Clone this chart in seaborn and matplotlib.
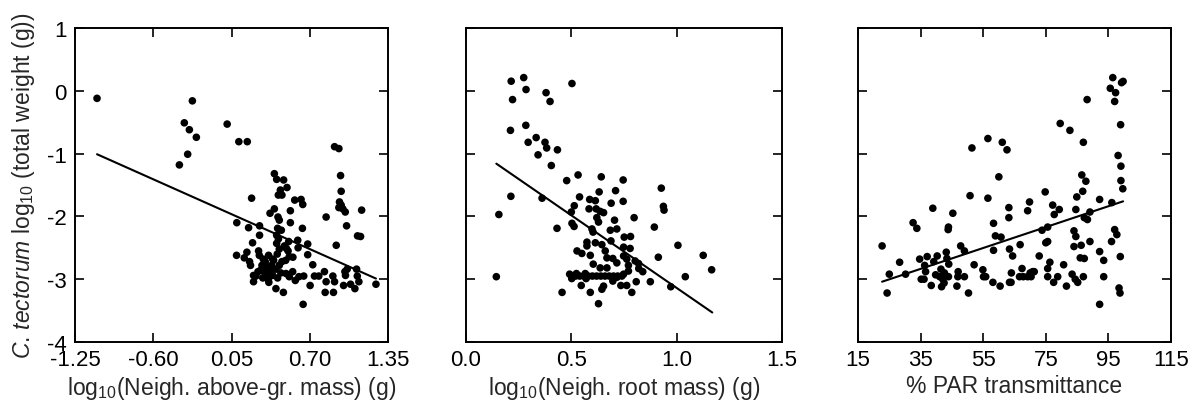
import numpy as np
import pandas as pd
import matplotlib
matplotlib.use("Agg")
import matplotlib.pyplot as plt
import seaborn as sns

# panel 1: log10 neighbour above-ground mass vs log10 total weight
shoot_x = [-1.067, -0.275, -0.342, -0.30, -0.242, -0.314, -0.383, 0.014, 0.111, 0.181,
           0.906, 0.942, 0.956, 0.961, 0.947, 0.961, 0.942, 0.975, 0.995, 0.836,
           1.006, 1.131, 1.097, 1.122, 0.92, 0.406, 0.425, 0.483, 0.511, 0.456,
           0.439, 0.469, 0.217, 0.575, 0.628, 0.642, 0.539, 0.406, 0.37, 0.436,
           0.447, 0.539, 0.094, 0.192, 0.283, 0.433, 0.464, 0.639, 0.283, 0.225,
           0.425, 0.425, 0.525, 0.60, 0.683, 0.603, 0.506, 0.447, 0.275, 0.178,
           0.092, 0.156, 0.20, 0.208, 0.281, 0.358, 0.392, 0.314, 0.336, 0.303,
           0.383, 0.469, 0.53, 0.683, 0.725, 0.233, 0.253, 0.233, 0.342, 0.356,
           0.392, 0.433, 0.419, 0.481, 0.53, 0.503, 0.558, 0.65, 0.645, 0.703,
           0.739, 0.775, 0.822, 0.836, 0.828, 0.892, 0.906, 0.897, 0.981, 0.992,
           0.997, 1.011, 1.039, 1.075, 1.089, 1.095, 1.108, 1.25, 0.35, 0.419,
           0.447, 0.32, 0.37, 0.29, 0.40, 0.46, 0.52, 0.56, 0.61, 0.33,
           0.38, 0.44, 0.50, 0.58, 0.27, 0.31, 0.36, 0.43, 0.49]
shoot_y = [-0.12, -0.16, -0.51, -0.62, -0.74, -1.01, -1.18, -0.53, -0.81, -0.81,
           -0.89, -0.92, -1.35, -1.60, -1.77, -1.82, -1.86, -1.88, -1.93, -2.01,
           -2.15, -1.90, -2.31, -2.32, -2.46, -1.32, -1.41, -1.42, -1.54, -1.58,
           -1.66, -1.66, -1.71, -1.74, -1.73, -1.81, -1.91, -1.88, -1.95, -2.01,
           -2.06, -2.10, -2.10, -2.18, -2.15, -2.19, -2.22, -2.19, -2.30, -2.42,
           -2.30, -2.43, -2.40, -2.38, -2.44, -2.50, -2.51, -2.52, -2.55, -2.57,
           -2.62, -2.66, -2.72, -2.78, -2.62, -2.62, -2.68, -2.68, -2.78, -2.78,
           -2.78, -2.72, -2.64, -2.61, -2.77, -2.94, -2.95, -3.04, -2.94, -3.01,
           -2.94, -2.98, -3.15, -3.21, -2.96, -2.91, -2.88, -2.95, -3.40, -3.10,
           -2.95, -2.95, -2.88, -3.04, -3.21, -2.95, -3.04, -3.21, -3.10, -2.88,
           -2.94, -2.84, -3.08, -3.15, -2.84, -2.95, -3.04, -3.08, -2.85, -2.84,
           -2.78, -2.88, -2.85, -2.86, -2.70, -2.90, -2.55, -2.65, -2.96, -2.72,
           -2.92, -2.36, -2.70, -3.02, -2.88, -2.98, -3.05, -2.60, -2.47]

# panel 2: log10 neighbour root mass
root_x = [0.2145, 0.274, 0.285, 0.221, 0.503, 0.38, 0.399, 0.211, 0.284, 0.295,
          0.333, 0.375, 0.383, 0.342, 0.434, 0.405, 0.478, 0.532, 0.642, 0.746,
          0.71, 0.632, 0.746, 0.689, 0.927, 0.937, 0.94, 0.213, 0.361, 0.156,
          0.539, 0.587, 0.614, 0.514, 0.584, 0.618, 0.637, 0.653, 0.621, 0.629,
          0.50, 0.503, 0.513, 0.432, 0.705, 0.798, 0.894, 0.598, 0.603, 0.685,
          0.716, 0.751, 0.781, 0.574, 0.614, 0.645, 0.688, 0.661, 0.748, 0.779,
          0.527, 0.55, 0.574, 0.59, 0.604, 0.669, 0.697, 0.716, 0.748, 0.763,
          0.771, 0.803, 0.819, 0.82, 0.839, 0.913, 1.006, 1.126, 1.166, 1.041,
          0.972, 0.144, 0.456, 0.492, 0.502, 0.524, 0.547, 0.566, 0.57, 0.59,
          0.629, 0.645, 0.653, 0.637, 0.669, 0.697, 0.716, 0.735, 0.763, 0.787,
          0.808, 0.875, 0.748, 0.771, 0.52, 0.54, 0.56, 0.58, 0.60, 0.62,
          0.64, 0.66, 0.68, 0.70, 0.72, 0.74]
root_y = [0.153, 0.21, 0.02, -0.14, 0.116, -0.03, -0.17, -0.63, -0.55, -0.82,
          -0.745, -0.82, -0.91, -1.02, -0.94, -1.19, -1.43, -1.34, -1.37, -1.42,
          -1.59, -1.61, -1.76, -1.79, -1.55, -1.84, -1.90, -1.68, -1.71, -1.97,
          -1.69, -1.73, -1.75, -1.83, -1.88, -1.88, -1.92, -1.94, -2.02, -2.09,
          -1.93, -2.11, -2.16, -2.19, -2.06, -2.02, -2.17, -2.20, -2.25, -2.22,
          -2.20, -2.33, -2.32, -2.41, -2.42, -2.45, -2.39, -2.55, -2.49, -2.51,
          -2.55, -2.59, -2.47, -2.62, -2.76, -2.66, -2.67, -2.74, -2.63, -2.68,
          -2.78, -2.71, -2.75, -2.83, -2.88, -2.65, -2.46, -2.62, -2.85, -2.96,
          -3.12, -2.96, -3.21, -2.92, -2.99, -2.91, -3.10, -2.91, -2.99, -3.21,
          -3.39, -3.16, -3.11, -2.82, -2.82, -3.03, -2.97, -3.10, -3.10, -3.21,
          -3.04, -3.04, -2.92, -2.87, -2.95, -2.95, -2.95, -2.95, -2.95, -2.95,
          -2.95, -2.95, -2.95, -2.95, -2.95, -2.95]

# panel 3: % PAR transmittance
par_x = [22.7, 24.3, 25.0, 28.3, 30.2, 32.6, 33.8, 34.7, 35.2, 36.1,
         36.3, 36.6, 37.1, 38.4, 38.9, 39.2, 39.8, 40.3, 41.1, 41.7,
         42.1, 42.5, 41.5, 42.6, 43.2, 43.4, 43.8, 43.9, 44.0, 43.9,
         45.3, 46.6, 46.9, 47.0, 47.8, 49.0, 49.0, 50.3, 50.8, 51.4,
         52.1, 54.9, 55.1, 55.8, 56.5, 56.5, 58.1, 58.3, 58.3, 58.9,
         60.0, 60.4, 60.7, 61.1, 62.6, 63.2, 63.2, 63.4, 63.4, 63.9,
         64.0, 64.4, 66.8, 66.6, 67.4, 67.8, 69.2, 69.8, 69.2, 70.3,
         70.8, 71.3, 70.0, 72.9, 73.8, 74.8, 75.0, 75.6, 75.6, 75.6,
         75.6, 76.3, 77.2, 77.5, 77.7, 78.8, 79.3, 79.6, 80.7, 81.6,
         82.7, 83.4, 84.0, 84.6, 84.0, 84.4, 84.6, 84.9, 85.2, 86.3,
         86.0, 86.5, 86.8, 87.0, 87.3, 87.3, 87.8, 87.0, 88.2, 88.3,
         89.1, 89.1, 92.2, 92.2, 92.2, 93.5, 93.5, 95.6, 96.4, 96.0,
         96.1, 97.0, 97.3, 97.0, 97.7, 98.1, 98.4, 98.7, 98.8, 98.9,
         99.0, 99.0, 99.2, 99.7, 99.6]
par_y = [-2.47, -3.22, -2.92, -2.73, -2.92, -2.10, -2.19, -2.68, -3.00, -3.00,
         -2.78, -2.88, -2.64, -3.10, -1.87, -2.72, -2.93, -2.63, -2.96, -3.12,
         -3.00, -3.06, -2.84, -2.90, -2.57, -2.67, -2.21, -2.17, -2.76, -2.96,
         -1.95, -3.11, -2.96, -2.88, -2.47, -2.55, -2.96, -3.22, -1.67, -0.91,
         -2.77, -2.85, -2.96, -2.96, -0.76, -1.71, -3.05, -2.11, -2.54, -2.31,
         -1.37, -3.11, -2.33, -0.82, -0.94, -2.02, -1.86, -2.52, -3.05, -3.05,
         -2.90, -2.63, -2.45, -2.96, -2.83, -2.96, -2.96, -1.77, -1.91, -2.96,
         -2.88, -2.88, -2.90, -2.63, -2.22, -1.61, -2.42, -2.40, -2.17, -2.83,
         -2.96, -2.73, -1.82, -3.05, -1.97, -2.96, -1.89, -0.52, -2.77, -3.11,
         -0.63, -2.92, -2.23, -2.32, -2.48, -3.00, -1.89, -1.69, -3.05, -2.46,
         -2.66, -1.34, -1.60, -0.82, -2.02, -2.67, -1.44, -2.96, -0.14, -2.05,
         -2.40, -1.93, -1.73, -2.56, -3.40, -2.70, -2.96, 0.04, 0.21, -2.40,
         -1.78, -2.21, -0.03, -0.17, -2.29, -1.03, -3.14, -3.22, -2.64, -0.54,
         -1.20, -1.43, 0.13, 0.15, -1.56]

# fitted regression lines (end points)
shoot_fit_x = [-1.067, 1.25]
shoot_fit_y = [-1.01, -2.99]
root_fit_x = [0.144, 1.169]
root_fit_y = [-1.16, -3.53]
par_fit_x = [22.7, 99.7]
par_fit_y = [-3.04, -1.76]

shoot_ticks = [-1.25, -0.60, 0.05, 0.70, 1.35]
root_ticks = [0.0, 0.5, 1.0, 1.5]
par_ticks = [15, 35, 55, 75, 95, 115]
y_ticks = [1, 0, -1, -2, -3, -4]

sns.set_style("ticks")
plt.rcParams['font.family'] = ['Liberation Sans', 'DejaVu Sans']
plt.rcParams['mathtext.fontset'] = 'custom'
plt.rcParams['mathtext.rm'] = 'Liberation Sans'
plt.rcParams['mathtext.it'] = 'Liberation Sans:italic'

fig = plt.figure(figsize=(11.92, 4.06), dpi=100)
ax1 = fig.add_axes([75/1192, 63/406, 313/1192, 314/406])
ax2 = fig.add_axes([466/1192, 63/406, 316/1192, 314/406])
ax3 = fig.add_axes([858/1192, 63/406, 313/1192, 314/406])

panels = [
    (ax1, shoot_x, shoot_y, shoot_fit_x, shoot_fit_y, shoot_ticks, ["-1.25", "-0.60", "0.05", "0.70", "1.35"],
     r"log$_{10}$(Neigh. above-gr. mass) (g)"),
    (ax2, root_x, root_y, root_fit_x, root_fit_y, root_ticks, ["0.0", "0.5", "1.0", "1.5"],
     r"log$_{10}$(Neigh. root mass) (g)"),
    (ax3, par_x, par_y, par_fit_x, par_fit_y, par_ticks, [str(t) for t in par_ticks],
     "% PAR transmittance"),
]

for ax, xs, ys, fx, fy, xt, xtl, xlab in panels:
    df = pd.DataFrame({"x": xs, "y": ys})
    sns.scatterplot(data=df, x="x", y="y", ax=ax, color="black", s=30, edgecolor="none")
    sns.lineplot(x=fx, y=fy, ax=ax, color="black", linewidth=1.5)
    ax.set_xlim(xt[0], xt[-1])
    ax.set_ylim(-4, 1)
    ax.set_xticks(xt)
    ax.set_xticklabels(xtl)
    ax.set_yticks(y_ticks)
    ax.set_xlabel(xlab, fontsize=16.5, labelpad=3)
    ax.set_ylabel("")
    ax.tick_params(direction="in", length=6.5, width=1.2, top=True, right=True,
                   labelsize=16, pad=5, colors="black")
    for sp in ax.spines.values():
        sp.set_linewidth(1.4)
        sp.set_color("black")

ax1.set_yticklabels([str(t) for t in y_ticks])
ax1.tick_params(axis="y", pad=6)
ax2.set_yticklabels([])
ax3.set_yticklabels([])
ax1.set_ylabel(r"$\it{C.\,tectorum}$ log$_{10}$ (total weight (g))", fontsize=16.5)
ax1.yaxis.set_label_coords(-0.12, 0.5)

fig.savefig("out.png", dpi=100)
